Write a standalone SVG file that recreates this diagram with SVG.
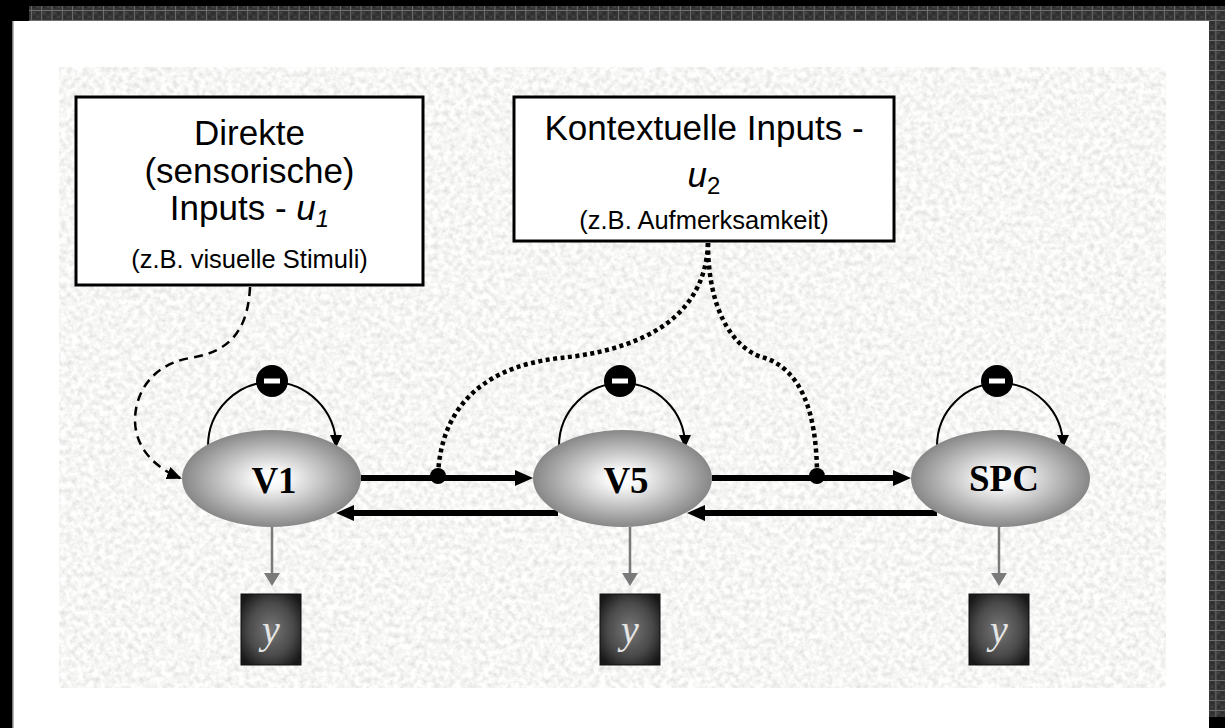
<svg xmlns="http://www.w3.org/2000/svg" width="1225" height="728" viewBox="0 0 1225 728">
<defs>
<style>
.box{fill:#fff;stroke:#000;stroke-width:3}
.big{font-family:"Liberation Sans",Arial,sans-serif;font-size:35px;fill:#000;text-anchor:middle}
.small{font-family:"Liberation Sans",Arial,sans-serif;font-size:25.5px;fill:#000;text-anchor:middle}
.lbl{font-family:"Liberation Serif","Times New Roman",serif;font-weight:bold;font-size:37px;fill:#000;text-anchor:middle}
.ytxt{font-family:"Liberation Serif","Times New Roman",serif;font-style:italic;font-size:40px;fill:#e4e4e4;text-anchor:middle}
.thick{stroke:#000;stroke-width:6;fill:none;marker-end:url(#bigArrow)}
.loop{stroke:#000;stroke-width:2;fill:none;marker-end:url(#smallArrow)}
.out{stroke:#7a7a7a;stroke-width:2.5;fill:none;marker-end:url(#grayArrow)}
.dotted{stroke:#000;stroke-width:4.5;fill:none;stroke-dasharray:4 3.5}
.dashed{stroke:#000;stroke-width:2.5;fill:none;stroke-dasharray:9 6;marker-end:url(#dashArrow)}
</style>
<pattern id="grid" width="10.3" height="10" patternUnits="userSpaceOnUse">
<rect width="10.3" height="10" fill="#353535"/>
<rect x="2" y="2" width="2" height="2" fill="#454545"/>
<rect x="6" y="6" width="2" height="2" fill="#454545"/>
<rect x="6" y="2" width="2" height="2" fill="#2a2a2a"/>
<rect x="2" y="6" width="2" height="2" fill="#2a2a2a"/>
<rect x="0" y="0" width="10.3" height="1" fill="#6e6e6e"/>
<rect x="0" y="0" width="1" height="10" fill="#6e6e6e"/>
</pattern>
<filter id="noise" x="0" y="0" width="100%" height="100%" filterUnits="objectBoundingBox">
<feTurbulence type="fractalNoise" baseFrequency="0.18" numOctaves="3" seed="7"/>
<feColorMatrix type="matrix" values="0.46 0 0 0 0.69  0.46 0 0 0 0.69  0.46 0 0 0 0.68  0 0 0 0 1"/>
</filter>
<radialGradient id="nodeGrad" cx="0.5" cy="0.5" r="0.5">
<stop offset="0" stop-color="#ffffff"/>
<stop offset="0.2" stop-color="#f6f6f6"/>
<stop offset="1" stop-color="#878787"/>
</radialGradient>
<radialGradient id="yGrad" cx="0.5" cy="0.5" r="0.62">
<stop offset="0" stop-color="#777777"/>
<stop offset="0.6" stop-color="#4a4a4a"/>
<stop offset="1" stop-color="#181818"/>
</radialGradient>
<marker id="bigArrow" markerUnits="userSpaceOnUse" markerWidth="18" markerHeight="16" refX="8" refY="8" orient="auto">
<path d="M0,0 L18,8 L0,16 z" fill="#000"/>
</marker>
<marker id="smallArrow" markerUnits="userSpaceOnUse" markerWidth="13" markerHeight="12" refX="11" refY="6" orient="auto">
<path d="M0,0 L13,6 L0,12 z" fill="#000"/>
</marker>
<marker id="dashArrow" markerUnits="userSpaceOnUse" markerWidth="15" markerHeight="13" refX="13" refY="6.5" orient="auto">
<path d="M0,0 L15,6.5 L0,13 z" fill="#000"/>
</marker>
<marker id="grayArrow" markerUnits="userSpaceOnUse" markerWidth="13" markerHeight="16" refX="10" refY="8" orient="auto">
<path d="M0,0 L13,8 L0,16 z" fill="#7a7a7a"/>
</marker>
</defs>

<!-- frame -->
<rect x="0" y="0" width="1225" height="728" fill="#000"/>
<rect x="29" y="6" width="1196" height="15" fill="url(#grid)"/>
<rect x="1209" y="6" width="16" height="711" fill="url(#grid)"/>
<rect x="12" y="21" width="1197" height="707" fill="#fff"/>
<rect x="12" y="21" width="1.5" height="707" fill="#777"/>
<rect x="59" y="67" width="1107" height="621" fill="#ececec" filter="url(#noise)"/>

<!-- connectors -->
<g id="connectors">
<path class="dashed" d="M250,287 C248,330 230,352 190,358 C150,365 135,395 135,420 C135,450 158,469 180,478"/>
<path class="dotted" d="M708,243 C705,330 620,352 560,358 C470,368 440,420 438,476"/>
<path class="dotted" d="M708,243 C708,320 740,352 765,358 C800,370 817,410 817,476"/>
<path class="thick" d="M361,478 L523,478"/>
<path class="thick" d="M558,513 L346,513"/>
<path class="thick" d="M712,478 L901,478"/>
<path class="thick" d="M937,513 L697,513"/>
<circle cx="438" cy="476" r="8" fill="#000"/>
<circle cx="817" cy="476" r="8" fill="#000"/>
<path class="loop" d="M208,446 A64,64 0 0 1 336,446"/>
<path class="loop" d="M559,446 A63,63 0 0 1 685,446"/>
<path class="loop" d="M937,446 A63,63 0 0 1 1063,446"/>
<path class="out" d="M272,527 L272,583"/>
<path class="out" d="M630,527 L630,583"/>
<path class="out" d="M999,527 L999,583"/>
</g>

<!-- input boxes -->
<g id="box-u1">
<rect class="box" x="76" y="97" width="347" height="188"/>
<text class="big" x="249.5" y="145">Direkte</text>
<text class="big" x="249.5" y="183">(sensorische)</text>
<text class="big" x="249.5" y="220">Inputs - <tspan font-style="italic">u</tspan><tspan font-style="italic" font-size="24" dy="7">1</tspan></text>
<text class="small" x="249.5" y="268">(z.B. visuelle Stimuli)</text>
</g>
<g id="box-u2">
<rect class="box" x="514" y="97" width="380" height="144"/>
<text class="big" x="704" y="140">Kontextuelle Inputs -</text>
<text class="big" x="704" y="187"><tspan font-style="italic">u</tspan><tspan font-size="24" dy="7">2</tspan></text>
<text class="small" x="704" y="229">(z.B. Aufmerksamkeit)</text>
</g>

<!-- self-inhibition markers -->
<g id="inh-V1"><circle cx="272" cy="381" r="16" fill="#000"/><rect x="264" y="378.5" width="16" height="5" fill="#fff"/></g>
<g id="inh-V5"><circle cx="620" cy="381" r="16" fill="#000"/><rect x="612" y="378.5" width="16" height="5" fill="#fff"/></g>
<g id="inh-SPC"><circle cx="997" cy="381" r="16" fill="#000"/><rect x="989" y="378.5" width="16" height="5" fill="#fff"/></g>

<!-- region nodes -->
<g id="node-V1">
<ellipse cx="271.5" cy="478.5" rx="89.5" ry="48.5" fill="url(#nodeGrad)"/>
<text class="lbl" x="274" y="493">V1</text>
</g>
<g id="node-V5">
<ellipse cx="622.5" cy="478.5" rx="89.5" ry="48.5" fill="url(#nodeGrad)"/>
<text class="lbl" x="626" y="493">V5</text>
</g>
<g id="node-SPC">
<ellipse cx="1000.5" cy="478.5" rx="89.5" ry="48.5" fill="url(#nodeGrad)"/>
<text class="lbl" x="1004" y="491">SPC</text>
</g>

<!-- outputs -->
<g id="y-V1">
<rect x="241" y="594" width="60" height="71" fill="url(#yGrad)" stroke="#111" stroke-width="1"/>
<text class="ytxt" x="271" y="643">y</text>
</g>
<g id="y-V5">
<rect x="600" y="594" width="60" height="71" fill="url(#yGrad)" stroke="#111" stroke-width="1"/>
<text class="ytxt" x="630" y="643">y</text>
</g>
<g id="y-SPC">
<rect x="969" y="594" width="60" height="71" fill="url(#yGrad)" stroke="#111" stroke-width="1"/>
<text class="ytxt" x="999" y="643">y</text>
</g>
</svg>
